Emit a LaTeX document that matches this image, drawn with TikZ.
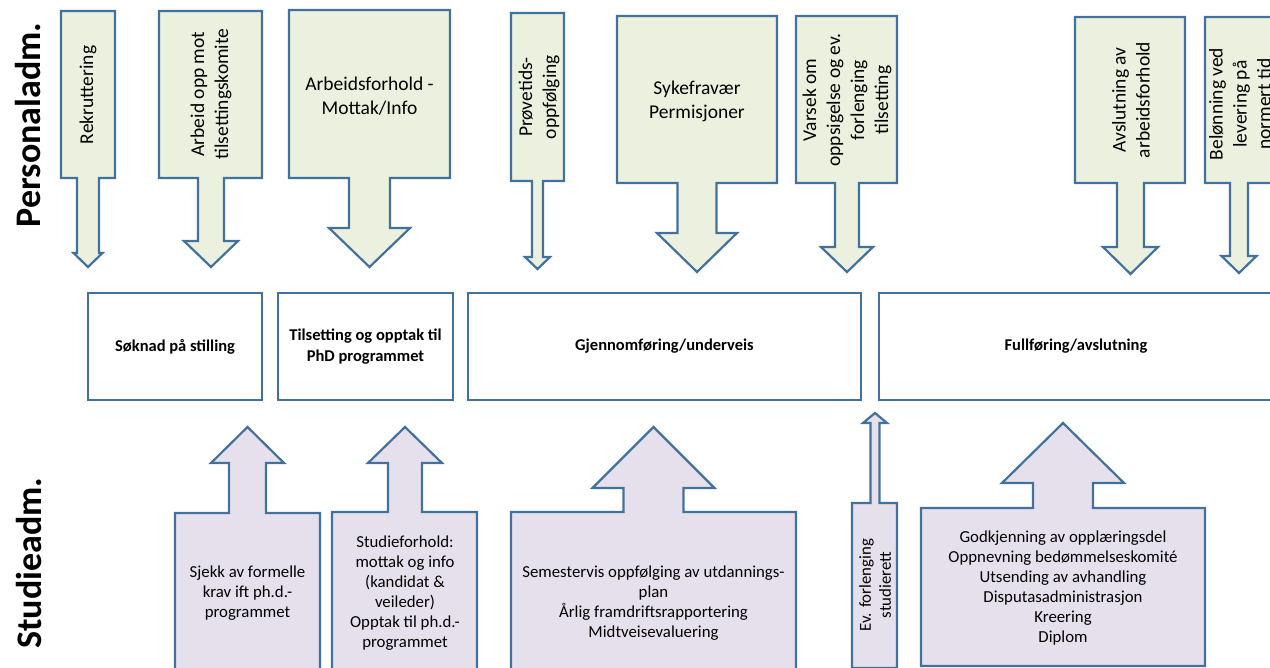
\documentclass[tikz,border=0pt]{standalone}
\usepackage{fontspec}
\setmainfont{Carlito}
\definecolor{edge}{HTML}{41719C}
\definecolor{grn}{HTML}{EBF1DE}
\definecolor{prp}{HTML}{E6E0EC}
\tikzset{
  calloutg/.style={draw=edge, fill=grn, line width=2.2pt, line join=miter},
  calloutp/.style={draw=edge, fill=prp, line width=2.2pt, line join=miter},
  phasebox/.style={draw=edge, fill=white, line width=2.2pt},
  toptxt/.style={font=\fontsize{19.5}{24}\selectfont, align=center, inner sep=0pt},
  toprot/.style={toptxt, rotate=90},
  midtxt/.style={font=\fontsize{16.5}{20.5}\selectfont\bfseries, align=center, inner sep=0pt},
  bottxt/.style={font=\fontsize{16.8}{20}\selectfont, align=center, inner sep=0pt},
  sidelbl/.style={font=\fontsize{36}{40}\selectfont\bfseries, rotate=90, inner sep=0pt}
}
% down callout: x1 x2 y1 y2 c s w hy ty
\newcommand\dcallout[9]{%
  \draw[calloutg] (#1,#3) -- (#2,#3) -- (#2,#4) -- (#5+#6,#4) -- (#5+#6,#8) -- (#5+#7,#8)
    -- (#5,#9) -- (#5-#7,#8) -- (#5-#6,#8) -- (#5-#6,#4) -- (#1,#4) -- cycle;}
% up callout: x1 x2 y1(top) y2(bottom) c s w hy ty
\newcommand\ucallout[9]{%
  \draw[calloutp] (#1,#4) -- (#1,#3) -- (#5-#6,#3) -- (#5-#6,#8) -- (#5-#7,#8)
    -- (#5,#9) -- (#5+#7,#8) -- (#5+#6,#8) -- (#5+#6,#3) -- (#2,#3) -- (#2,#4) -- cycle;}
\begin{document}
\begin{tikzpicture}[x=1pt,y=-1pt]
\useasboundingbox (0,0) rectangle (1270,668);
\clip (0,0) rectangle (1270,668);
% side labels
\node[sidelbl] (lp) at (28,125) {Personaladm.};
\node[sidelbl] (ls) at (29,563) {Studieadm.};
% top callouts
\dcallout{61}{115}{11}{178}{88}{11}{14.5}{253}{267}
\dcallout{159}{262}{11}{178}{211}{13}{27}{241}{267}
\dcallout{289}{450}{10}{178}{369.5}{20.5}{40.5}{228}{267}
\dcallout{511}{564}{13}{181}{537.5}{5.5}{12.5}{257}{269}
\dcallout{617}{777}{16}{183}{697}{19.5}{40}{233}{272}
\dcallout{796}{897}{16}{183}{847}{12}{26}{247}{272}
\dcallout{1075}{1185}{17}{183}{1130.5}{13.5}{27.5}{247}{274}
\dcallout{1205}{1273}{17}{183}{1239}{9}{17.5}{256}{273}
\node[toprot] (p1) at (88,95) {Rekruttering};
\node[toprot] (p2) at (211,94) {Arbeid opp mot\\tilsettingskomite};
\node[toptxt] (p3) at (369.5,96) {Arbeidsforhold -\\Mottak/Info};
\node[toprot] (p4) at (539,97) {Prøvetids-\\oppfølging};
\node[toptxt] (p5) at (697,101) {Sykefravær\\Permisjoner};
\node[toprot] (p6) at (847,100) {Varsek om\\oppsigelse og ev.\\forlenging\\tilsetting};
\node[toprot] (p7) at (1131,100) {Avslutning av\\arbeidsforhold};
\node[toprot] (p8) at (1240,104) {Belønning ved\\levering på\\normert tid};
% phase boxes
\node[phasebox, minimum width=174pt, minimum height=107pt] (m1) at (175,346.5) {};
\node[midtxt] at (m1.center) {Søknad på stilling};
\node[phasebox, minimum width=175pt, minimum height=107pt] (m2) at (365.5,346.5) {};
\node[midtxt] at (m2.center) {Tilsetting og opptak til\\PhD programmet};
\node[phasebox, minimum width=393pt, minimum height=107pt] (m3) at (664.5,346.5) {};
\node[midtxt] at (m3.center) {Gjennomføring/underveis};
\node[phasebox, minimum width=394pt, minimum height=107pt] (m4) at (1076,346.5) {};
\node[midtxt] at (m4.center) {Fullføring/avslutning};
% bottom callouts
\ucallout{175}{320}{513}{673}{247.5}{18.5}{36.5}{463}{427}
\ucallout{332}{477}{512}{673}{405}{17}{37}{463}{427}
\ucallout{511}{796}{512}{693}{653.5}{30}{61}{488}{427}
\ucallout{852}{897}{503}{668}{875}{4.5}{12}{423}{413}
\ucallout{921}{1205}{508}{666}{1063}{30}{61}{483}{423}
\node[bottxt] (s1) at (247.5,593) {Sjekk av formelle\\krav ift ph.d.-\\programmet};
\node[bottxt] (s2) at (405,593) {Studieforhold:\\mottak og info\\(kandidat \&\\veileder)\\Opptak til ph.d.-\\programmet};
\node[bottxt] (s3) at (653.5,603) {Semestervis oppfølging av utdannings-\\plan\\Årlig framdriftsrapportering\\Midtveisevaluering};
\node[bottxt, rotate=90] (s4) at (875,585) {Ev. forlenging\\studierett};
\node[bottxt] (s5) at (1063,588) {Godkjenning av opplæringsdel\\Oppnevning bedømmelseskomité\\Utsending av avhandling\\Disputasadministrasjon\\Kreering\\Diplom};
\end{tikzpicture}
\end{document}
